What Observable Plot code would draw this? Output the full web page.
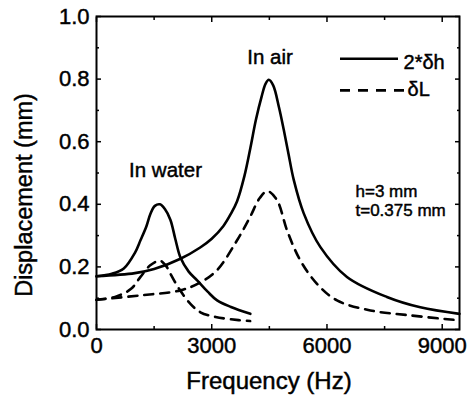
<!DOCTYPE html>
<html>
<head>
<meta charset="utf-8">
<script src="https://cdn.jsdelivr.net/npm/d3@7"></script>
<script src="https://cdn.jsdelivr.net/npm/@observablehq/plot@0.6"></script>
<style>
  html, body { margin: 0; padding: 0; background: #fff; }
  #chart svg { display: block; }
  #chart svg text { stroke: #000; stroke-width: 0.45px; }
</style>
</head>
<body>
<div id="chart"></div>
<script>
// ---- data ----
const waterFreq = [0, 400, 710, 1000, 1145, 1300, 1405, 1520, 1650, 1780, 1925, 2050, 2185, 2400, 2620, 2900, 3140, 3500, 4005];
const waterDh2  = [0.170, 0.178, 0.195, 0.245, 0.285, 0.330, 0.370, 0.395, 0.400, 0.385, 0.350, 0.290, 0.230, 0.185, 0.157, 0.120, 0.093, 0.072, 0.050];

const waterLFreq = [0, 500, 900, 1145, 1400, 1650, 1800, 1925, 2150, 2445, 2705, 3100, 3700, 4000];
const waterDL    = [0.095, 0.105, 0.130, 0.168, 0.205, 0.220, 0.205, 0.178, 0.130, 0.082, 0.055, 0.040, 0.030, 0.027];

const airFreq = [0, 1000, 1500, 2185, 2700, 3000, 3300, 3500, 3660, 3850, 4006, 4150, 4300, 4400, 4485, 4600, 4750, 4875, 5000, 5135, 5395, 5825, 6520, 7560, 8430, 9450];
const airDh2  = [0.170, 0.180, 0.193, 0.226, 0.262, 0.290, 0.330, 0.370, 0.410, 0.490, 0.580, 0.670, 0.745, 0.785, 0.798, 0.780, 0.710, 0.638, 0.560, 0.478, 0.371, 0.264, 0.168, 0.104, 0.071, 0.050];

const airLFreq = [0, 1145, 2185, 2700, 3140, 3660, 4000, 4250, 4450, 4700, 4960, 5305, 5740, 6260, 7130, 8170, 9300, 9450];
const airDL    = [0.095, 0.109, 0.125, 0.150, 0.190, 0.285, 0.360, 0.420, 0.442, 0.413, 0.317, 0.221, 0.146, 0.093, 0.061, 0.045, 0.031, 0.030];

const xMajorTicks = [0, 3000, 6000, 9000];
const xMinorTicks = [1500, 4500, 7500];
const yMajorTicks = [0, 0.2, 0.4, 0.6, 0.8, 1.0];
const yMinorTicks = [0.1, 0.3, 0.5, 0.7, 0.9];

const seriesLabels = ["2*δh", "δL"];
const annotationTexts = ["In air", "In water", "h=3 mm", "t=0.375 mm"];
const xTitle = "Frequency (Hz)";
const yTitle = "Displacement (mm)";

// ---- tables built from the arrays ----
const zip = (fs, vs, curve) => fs.map((f, i) => ({f, v: vs[i], curve}));
const solid = [...zip(waterFreq, waterDh2, "water-h"), ...zip(airFreq, airDh2, "air-h")];
const dashed = [...zip(waterLFreq, waterDL, "water-L"), ...zip(airLFreq, airDL, "air-L")];

// annotation placement (data units)
const centerNotes = [
  {text: annotationTexts[0], f: 4517, v: 0.868},
  {text: annotationTexts[1], f: 1796, v: 0.508}
];
const sideNotes = [
  {text: annotationTexts[2], f: 6743, v: 0.442},
  {text: annotationTexts[3], f: 6743, v: 0.381}
];
const legendSolid = [{x1: 6352, x2: 7862, v: 0.865, tx: 7993, tv: 0.854, label: seriesLabels[0]}];
const legendDashed = [{x1: 6352, x2: 8045, v: 0.764, tx: 8097, tv: 0.768, label: seriesLabels[1]}];

const FONT = "'Liberation Sans', Arial, Helvetica, sans-serif";

const chart = Plot.plot({
  width: 467,
  height: 395,
  marginLeft: 96,
  marginRight: 8,
  marginTop: 16,
  marginBottom: 66,
  style: {fontFamily: FONT, color: "#000", background: "#fff", overflow: "visible"},
  x: {domain: [0, 9450]},
  y: {domain: [0, 1.0]},
  marks: [
    // curves
    Plot.line(solid, {x: "f", y: "v", z: "curve", stroke: "#000", strokeWidth: 2.6, curve: "catmull-rom"}),
    Plot.line(dashed, {x: "f", y: "v", z: "curve", stroke: "#000", strokeWidth: 2.6, curve: "catmull-rom", strokeDasharray: "9,7"}),

    // frame
    Plot.frame({stroke: "#000", strokeWidth: 2}),

    // tick labels
    Plot.axisX(xMajorTicks, {anchor: "bottom", tickSize: 0, tickPadding: 8, fontSize: 22, label: null, tickFormat: d => String(d)}),
    Plot.axisY(yMajorTicks, {anchor: "left", tickSize: 0, tickPadding: 7, fontSize: 22, label: null, tickFormat: d => d.toFixed(1)}),

    // inward ticks on all four sides
    Plot.axisX(xMajorTicks, {anchor: "bottom", tickSize: 5, dy: -5, strokeWidth: 1.5, tickFormat: () => "", label: null}),
    Plot.axisX(xMinorTicks, {anchor: "bottom", tickSize: 3, dy: -3, strokeWidth: 1.5, tickFormat: () => "", label: null}),
    Plot.axisX(xMajorTicks, {anchor: "top", tickSize: 5, dy: 5, strokeWidth: 1.5, tickFormat: () => "", label: null}),
    Plot.axisX(xMinorTicks, {anchor: "top", tickSize: 3, dy: 3, strokeWidth: 1.5, tickFormat: () => "", label: null}),
    Plot.axisY(yMajorTicks, {anchor: "left", tickSize: 5, dx: 5, strokeWidth: 1.5, tickFormat: () => "", label: null}),
    Plot.axisY(yMinorTicks, {anchor: "left", tickSize: 3, dx: 3, strokeWidth: 1.5, tickFormat: () => "", label: null}),
    Plot.axisY(yMajorTicks, {anchor: "right", tickSize: 5, dx: -5, strokeWidth: 1.5, tickFormat: () => "", label: null}),
    Plot.axisY(yMinorTicks, {anchor: "right", tickSize: 3, dx: -3, strokeWidth: 1.5, tickFormat: () => "", label: null}),

    // axis titles
    Plot.text([xTitle], {frameAnchor: "bottom", text: d => d, textAnchor: "middle", dy: 52, dx: -9, fontSize: 24, lineAnchor: "middle", fill: "#000"}),
    Plot.text([yTitle], {frameAnchor: "left", text: d => d, textAnchor: "middle", rotate: -90, dx: -72, dy: 22, fontSize: 23.5, lineAnchor: "middle", fill: "#000"}),

    // annotations
    Plot.text(centerNotes, {x: "f", y: "v", text: "text", textAnchor: "middle", fontSize: 20.5, lineAnchor: "middle", fill: "#000"}),
    Plot.text(sideNotes, {x: "f", y: "v", text: "text", textAnchor: "start", fontSize: 17, lineAnchor: "middle", fill: "#000"}),

    // legend
    Plot.ruleY(legendSolid, {y: "v", x1: "x1", x2: "x2", stroke: "#000", strokeWidth: 2.6}),
    Plot.ruleY(legendDashed, {y: "v", x1: "x1", x2: "x2", stroke: "#000", strokeWidth: 2.6, strokeDasharray: "10,8"}),
    Plot.text(legendSolid, {x: "tx", y: "tv", text: "label", textAnchor: "start", fontSize: 20, lineAnchor: "middle", fill: "#000"}),
    Plot.text(legendDashed, {x: "tx", y: "tv", text: "label", textAnchor: "start", fontSize: 20, lineAnchor: "middle", fill: "#000"})
  ]
});

document.getElementById("chart").appendChild(chart);
</script>
</body>
</html>
